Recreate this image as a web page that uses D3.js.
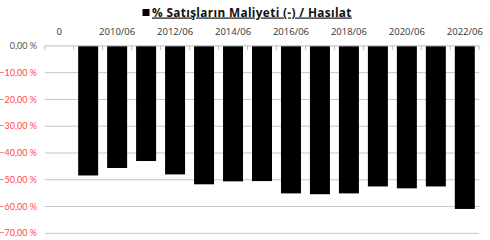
<!DOCTYPE html>
<html><head><meta charset="utf-8">
<script src="https://cdn.jsdelivr.net/npm/d3@7"></script>
<style>html,body{margin:0;padding:0;background:#fff;}svg{display:block;}</style>
</head><body>
<svg id="chart" width="490" height="240"></svg>
<script>
const title = "% Satışların Maliyeti (-) / Hasılat";
const categories = ["0","2009/06","2010/06","2011/06","2012/06","2013/06","2014/06","2015/06","2016/06","2017/06","2018/06","2019/06","2020/06","2021/06","2022/06"];
const values = [null,-48.4,-45.6,-43.0,-48.0,-51.7,-50.6,-50.5,-55.1,-55.4,-55.1,-52.5,-53.2,-52.5,-60.9];
const yTicks = [0,-10,-20,-30,-40,-50,-60,-70];
const xLabelCats = ["0","2010/06","2012/06","2014/06","2016/06","2018/06","2020/06","2022/06"];

const svg = d3.select("#chart");
const x = d3.scaleBand().domain(categories).range([44.7, 479.3]).paddingInner(0.31).paddingOuter(0.155);
const xb = d3.scaleBand().domain(categories).range([44.7, 479.3]);
const y = d3.scaleLinear().domain([-70, 0]).range([233.3, 45.9]);

const fmt = v => (v === 0 ? "0,00 %" : d3.format(".2f")(v).replace(".", ",") + " %");

// gridlines
svg.append("g").selectAll("line").data(yTicks.filter(d => d !== 0)).join("line")
  .attr("x1", 44.7).attr("x2", 479.3)
  .attr("y1", d => y(d)).attr("y2", d => y(d))
  .attr("stroke", "#c6c6c6").attr("stroke-width", 1);

// y labels
svg.append("g").selectAll("text").data(yTicks).join("text")
  .attr("x", 37).attr("y", d => y(d)).attr("dy", "0.35em")
  .attr("text-anchor", "end")
  .attr("font-family", "Lato, 'Open Sans', sans-serif").attr("font-size", 9)
  .attr("fill", d => d === 0 ? "#555" : "#ff4a4a")
  .text(fmt);

// bars
svg.append("g").selectAll("rect").data(categories.map((c, i) => ({c, v: values[i]})).filter(d => d.v !== null)).join("rect")
  .attr("x", d => x(d.c)).attr("width", x.bandwidth())
  .attr("y", y(0)).attr("height", d => y(d.v) - y(0))
  .attr("fill", "#000");

// top axis line and ticks
const ax = svg.append("g");
ax.append("line").attr("x1", 44.7).attr("x2", 479.3).attr("y1", y(0)).attr("y2", y(0))
  .attr("stroke", "#bdbdbd").attr("stroke-width", 1);
const tickPos = categories.map(c => xb(c)).concat([479.3]);
ax.selectAll("line.t").data(tickPos).join("line").attr("class", "t")
  .attr("x1", d => d).attr("x2", d => d).attr("y1", y(0)).attr("y2", y(0) + 4)
  .attr("stroke", "#bdbdbd").attr("stroke-width", 1);

// x labels
svg.append("g").selectAll("text").data(xLabelCats).join("text")
  .attr("x", d => xb(d) + xb.bandwidth() / 2).attr("y", 32).attr("dy", "0.35em")
  .attr("text-anchor", "middle")
  .attr("font-family", "'Open Sans', sans-serif").attr("font-size", 9.5)
  .attr("fill", "#333")
  .text(d => d);

// title + legend
svg.append("rect").attr("x", 142.5).attr("y", 9).attr("width", 7).attr("height", 7).attr("fill", "#000");
svg.append("text").attr("x", 152).attr("y", 16.5)
  .attr("font-family", "'Open Sans', sans-serif").attr("font-size", 11.8).attr("font-weight", "bold")
  .attr("letter-spacing", 0.35)
  .attr("fill", "#111").attr("text-decoration", "underline")
  .text(title);
</script>
</body></html>
